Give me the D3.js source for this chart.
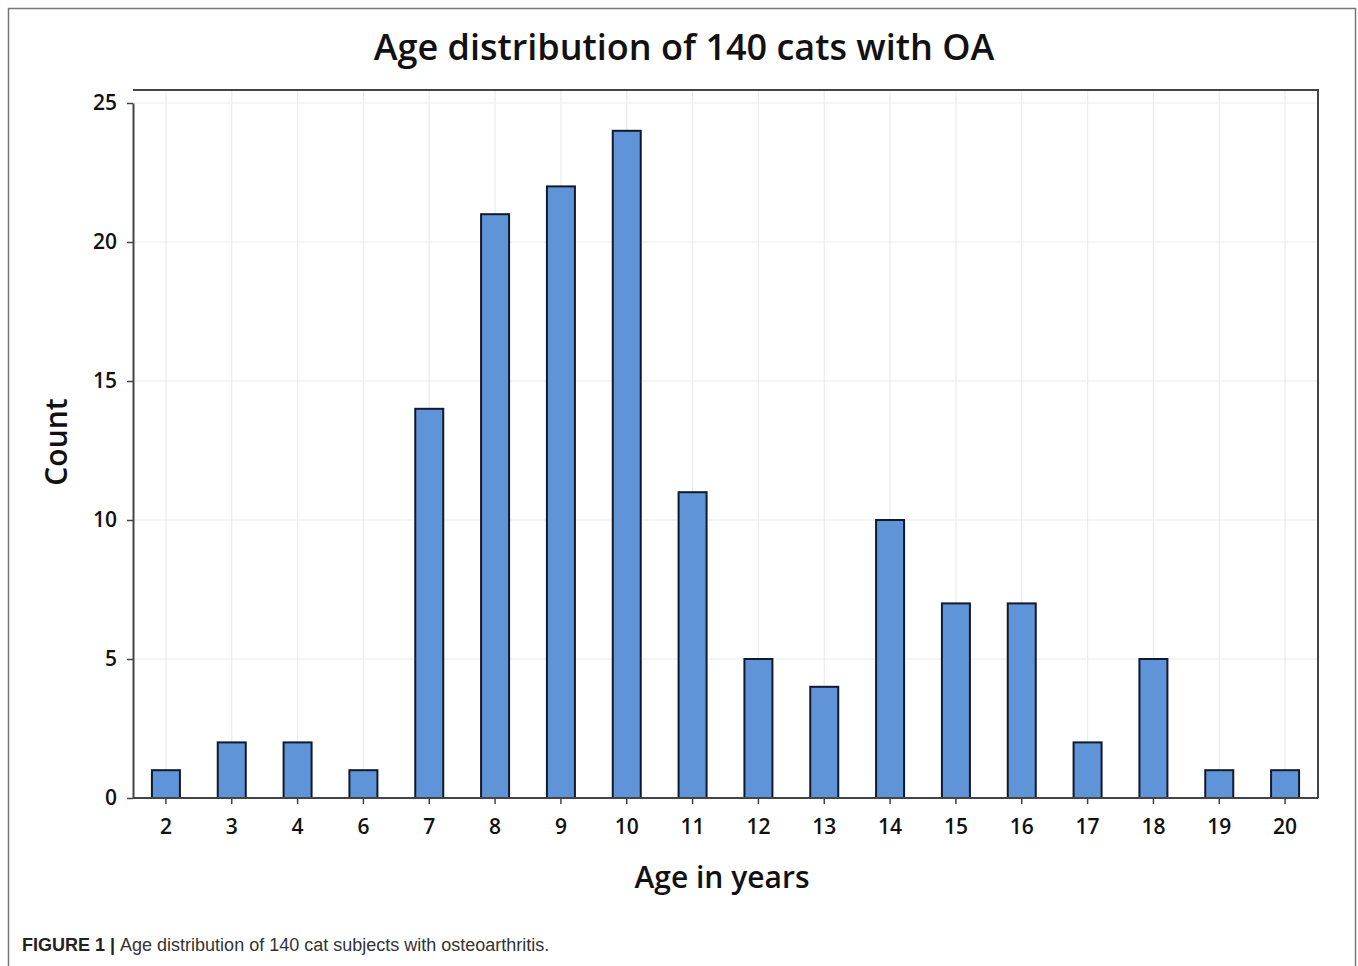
<!DOCTYPE html>
<html><head><meta charset="utf-8">
<script src="https://cdn.jsdelivr.net/npm/d3@7"></script>
<style>body{margin:0;background:#fff;}svg{display:block;}</style>
</head><body>
<script>
const ages = ["2","3","4","6","7","8","9","10","11","12","13","14","15","16","17","18","19","20"];
const counts = [1,2,2,1,14,21,22,24,11,5,4,10,7,7,2,5,1,1];
const yTicks = [0,5,10,15,20,25];
const title = "Age distribution of 140 cats with OA";
const xLabel = "Age in years";
const yLabel = "Count";

const W = 1358, H = 966;
const svg = d3.select("body").append("svg").attr("width", W).attr("height", H);
svg.append("rect").attr("width", W).attr("height", H).attr("fill", "#fff");
svg.append("rect").attr("x", 8.5).attr("y", 8.5).attr("width", 1347).attr("height", 990)
  .attr("fill", "none").attr("stroke", "#777").attr("stroke-width", 1.5);

const L = 133, R = 1318, T = 90, B = 798;
const x = d3.scaleBand().domain(ages).range([L, R]).padding(0);
const y = d3.scaleLinear().domain([0, 25]).range([B, 103]);
const bw = 28;

// gridlines
const g = svg.append("g");
g.selectAll(".vg").data(ages).join("line")
  .attr("x1", d => x(d) + x.bandwidth()/2).attr("x2", d => x(d) + x.bandwidth()/2)
  .attr("y1", T).attr("y2", B).attr("stroke", "#ececec").attr("stroke-width", 1.2);
g.selectAll(".hg").data(yTicks).join("line")
  .attr("x1", L).attr("x2", R).attr("y1", d => y(d)).attr("y2", d => y(d))
  .attr("stroke", "#ececec").attr("stroke-width", 1.2);

// bars
svg.append("g").selectAll("rect").data(ages).join("rect")
  .attr("x", d => x(d) + x.bandwidth()/2 - bw/2)
  .attr("y", (d,i) => y(counts[i]))
  .attr("width", bw)
  .attr("height", (d,i) => B - y(counts[i]))
  .attr("fill", "#6094d8").attr("stroke", "#111a2a").attr("stroke-width", 2);

// frame top/right
svg.append("path").attr("d", `M${L},${T}H${R}V${B}`).attr("fill", "none")
  .attr("stroke", "#444").attr("stroke-width", 2);

// axes
const fontAx = "'Open Sans', 'Noto Sans', sans-serif";
const xa = svg.append("g").attr("transform", `translate(0,${B})`)
  .call(d3.axisBottom(x).tickSize(6).tickPadding(15).tickSizeOuter(0));
const ya = svg.append("g").attr("transform", `translate(${L},0)`)
  .call(d3.axisLeft(y).tickValues(yTicks).tickSize(6).tickPadding(10).tickSizeOuter(0));
[xa, ya].forEach(a => {
  a.select(".domain").attr("stroke", "#444").attr("stroke-width", 2);
  a.selectAll(".tick line").attr("stroke", "#444").attr("stroke-width", 1.5);
  a.selectAll("text").attr("font-family", fontAx).attr("font-size", 21)
    .attr("font-weight", 600).attr("fill", "#111");
});
xa.select(".domain").attr("d", `M${L},0H${R}`);

svg.append("text").attr("x", 684).attr("y", 60).attr("text-anchor", "middle")
  .attr("font-family", fontAx).attr("font-size", 36).attr("font-weight", 600)
  .attr("fill", "#111").text(title);
svg.append("text").attr("x", 722).attr("y", 888).attr("text-anchor", "middle")
  .attr("font-family", fontAx).attr("font-size", 30).attr("font-weight", 600)
  .attr("fill", "#111").text(xLabel);
svg.append("text").attr("transform", "translate(67,442) rotate(-90)").attr("text-anchor", "middle")
  .attr("font-family", fontAx).attr("font-size", 30).attr("font-weight", 600)
  .attr("fill", "#111").text(yLabel);

const cap = svg.append("text").attr("x", 22).attr("y", 951)
  .attr("font-family", "'Liberation Sans', Arial, sans-serif").attr("font-size", 18).attr("fill", "#333");
cap.append("tspan").attr("font-weight", "bold").attr("fill", "#222").text("FIGURE 1 | ");
cap.append("tspan").text("Age distribution of 140 cat subjects with osteoarthritis.");
</script>
</body></html>
